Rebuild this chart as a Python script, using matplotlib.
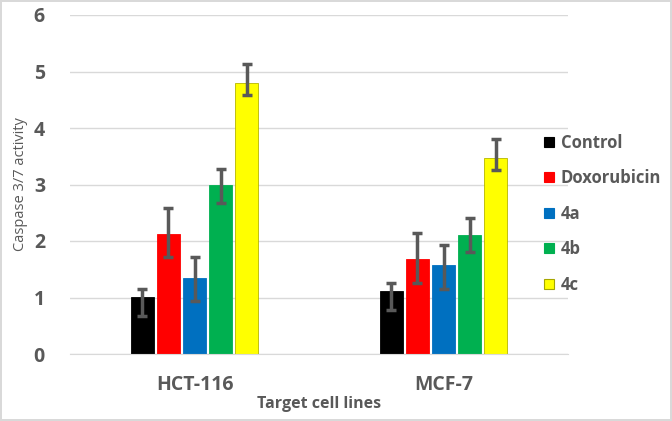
import numpy as np
import matplotlib
matplotlib.use("Agg")
import matplotlib.pyplot as plt
from matplotlib.lines import Line2D

cell_lines = ["HCT-116", "MCF-7"]
treatments = ["Control", "Doxorubicin", "4a", "4b", "4c"]
colors = ["#000000", "#FF0000", "#0070C0", "#00B050", "#FFFF00"]

# mean caspase 3/7 activity, rows = treatments, cols = cell lines
values = [
    [1.01, 1.12],
    [2.12, 1.68],
    [1.35, 1.57],
    [2.99, 2.11],
    [4.79, 3.47],
]
err_lower = [
    [0.34, 0.35],
    [0.41, 0.42],
    [0.42, 0.42],
    [0.31, 0.30],
    [0.21, 0.21],
]
err_upper = [
    [0.14, 0.13],
    [0.46, 0.47],
    [0.36, 0.36],
    [0.29, 0.29],
    [0.34, 0.34],
]

GREY = "#595959"
plt.rcParams["font.family"] = ["Open Sans", "DejaVu Sans"]

fig = plt.figure(figsize=(6.72, 4.21), dpi=100)
fig.patch.set_facecolor("white")
fig.patch.set_edgecolor("#d9d9d9")
fig.patch.set_linewidth(1.5)
ax = fig.add_axes([70 / 672, 1 - 354 / 421, 498 / 672, 339 / 421])

x = np.arange(len(cell_lines))
slot = 0.105
width = 0.094
for i, (name, col) in enumerate(zip(treatments, colors)):
    pos = x + (i - 2) * slot
    edge = "#b5b500" if name == "4c" else col
    ax.bar(pos, values[i], width, color=col, edgecolor=edge, linewidth=0.6,
           label=name, zorder=2)
    ax.errorbar(pos, values[i], yerr=[err_lower[i], err_upper[i]], fmt="none",
                ecolor=GREY, elinewidth=2.5, capsize=3.5, capthick=2.5, zorder=3)

ax.set_xlim(-0.5, 1.5)
ax.set_ylim(0, 6)
ax.set_yticks(range(0, 7))
ax.yaxis.grid(True, color="#d9d9d9", linewidth=1.0, zorder=0)
ax.set_axisbelow(True)
for s in ["top", "right", "left"]:
    ax.spines[s].set_visible(False)
ax.spines["bottom"].set_color("#d9d9d9")
ax.tick_params(axis="both", length=0, colors=GREY, labelsize=14)
ax.set_xticks(x)
ax.set_xticklabels(cell_lines, fontweight="bold")
for lab in ax.get_yticklabels():
    lab.set_fontweight("bold")
ax.tick_params(axis="x", pad=15)
ax.tick_params(axis="y", pad=18)

ax.set_xlabel("Target cell lines", color=GREY, fontsize=11.5, fontweight="bold", labelpad=1)
ax.set_ylabel("Caspase 3/7 activity", color=GREY, fontsize=10.5, labelpad=4)

handles = [Line2D([0], [0], marker="s", linestyle="none", markersize=7.6,
                  markerfacecolor=c, markeredgecolor=("#a6a600" if t == "4c" else c),
                  markeredgewidth=0.8)
           for t, c in zip(treatments, colors)]
leg = fig.legend(handles, treatments, loc="upper left",
                 bbox_to_anchor=(531 / 672, 1 - 127 / 421), frameon=False,
                 fontsize=12, labelspacing=1.05, handletextpad=0.0,
                 handlelength=1.4, borderaxespad=0)
for t in leg.get_texts():
    t.set_color(GREY)
    t.set_fontweight("bold")

fig.savefig("out.png", dpi=100, facecolor=fig.get_facecolor(),
            edgecolor=fig.get_edgecolor())
